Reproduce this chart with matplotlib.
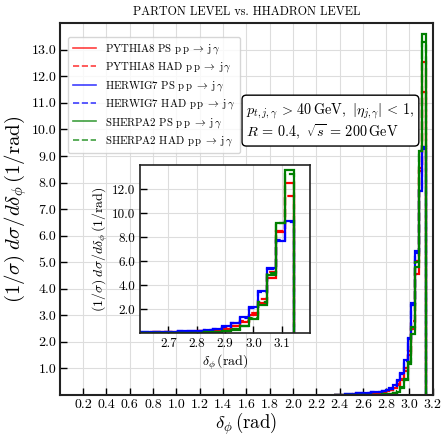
import numpy as np
import matplotlib
matplotlib.use("Agg")
import matplotlib.pyplot as plt

plt.rcParams['font.family'] = ['cmr10', 'DejaVu Serif']
plt.rcParams['mathtext.fontset'] = 'cm'
plt.rcParams['axes.formatter.use_mathtext'] = True

# bin edges: 100 bins over [0, pi]; only bins 75..99 have visible content
first_bin = 75
n_bins_total = 100
edges = np.linspace(0, np.pi, n_bins_total + 1)[first_bin:]

pythia_ps = [0.01, 0.01, 0.012, 0.015, 0.02, 0.025, 0.03, 0.035, 0.04, 0.05, 0.06,
             0.07, 0.09, 0.11, 0.14, 0.18, 0.25, 0.36, 0.55, 0.89, 1.50,
             2.50, 4.55, 8.45, 12.53]
pythia_had = [0.01, 0.01, 0.012, 0.015, 0.02, 0.025, 0.03, 0.035, 0.04, 0.05, 0.06,
              0.07, 0.09, 0.12, 0.15, 0.19, 0.27, 0.40, 0.62, 1.00, 1.67,
              2.80, 5.05, 8.55, 11.40]
herwig_ps = [0.01, 0.015, 0.02, 0.03, 0.04, 0.05, 0.06, 0.07, 0.08, 0.09,
             0.10, 0.11, 0.13, 0.15, 0.19, 0.25, 0.36, 0.55, 0.83, 1.33,
             2.16, 3.47, 5.42, 7.68, 9.33]
herwig_had = [0.01, 0.015, 0.02, 0.03, 0.04, 0.05, 0.06, 0.07, 0.08, 0.09,
              0.10, 0.11, 0.13, 0.15, 0.19, 0.24, 0.34, 0.52, 0.80, 1.28,
              2.10, 3.40, 5.35, 7.75, 9.25]
sherpa_ps = [0.0, 0.0, 0.0, 0.0, 0.0, 0.005, 0.005, 0.01, 0.01, 0.01,
             0.015, 0.02, 0.02, 0.03, 0.04, 0.05, 0.07, 0.13, 0.28, 0.55,
             1.16, 2.30, 4.82, 9.20, 13.60]
sherpa_had = [0.0, 0.0, 0.0, 0.0, 0.0, 0.005, 0.005, 0.01, 0.01, 0.01,
              0.015, 0.02, 0.02, 0.03, 0.04, 0.05, 0.08, 0.14, 0.30, 0.60,
              1.25, 2.55, 5.00, 9.20, 13.30]

proc = "$\\mathrm{p\\,p}\\;\\to\\;\\mathrm{j}\\,\\gamma$"
series = [
    ("PYTHIA8 PS " + proc, pythia_ps, "red", "-"),
    ("PYTHIA8 HAD " + proc, pythia_had, "red", "--"),
    ("HERWIG7 PS " + proc, herwig_ps, "blue", "-"),
    ("HERWIG7 HAD " + proc, herwig_had, "blue", "--"),
    ("SHERPA2 PS " + proc, sherpa_ps, "green", "-"),
    ("SHERPA2 HAD " + proc, sherpa_had, "green", "--"),
]

main_xticks = [0.2, 0.4, 0.6, 0.8, 1.0, 1.2, 1.4, 1.6, 1.8, 2.0, 2.2, 2.4, 2.6, 2.8, 3.0, 3.2]
main_yticks = [1.0, 2.0, 3.0, 4.0, 5.0, 6.0, 7.0, 8.0, 9.0, 10.0, 11.0, 12.0, 13.0]
inset_xticks = [2.7, 2.8, 2.9, 3.0, 3.1]
inset_yticks = [2.0, 4.0, 6.0, 8.0, 10.0, 12.0]

fig = plt.figure(figsize=(4.43, 4.37), dpi=100)
ax = fig.add_axes([0.135, 0.096, 0.842, 0.851])

ylab = r"$(1/\sigma)\;d\sigma/d\delta_\phi\,(1/\mathrm{rad})$"
xlab = r"$\delta_\phi\,(\mathrm{rad})$"

handles = []
for label, vals, col, ls in series:
    ax.stairs(vals, edges, color=col, linestyle=ls, linewidth=1.6)
    h, = ax.plot([], [], color=col, linestyle=ls, linewidth=1.2, alpha=0.75, label=label)
    handles.append(h)

ax.set_xlim(0, 3.2)
ax.set_ylim(0, 14)
ax.set_xticks(main_xticks)
ax.set_yticks(main_yticks)
ax.xaxis.set_major_formatter(matplotlib.ticker.FormatStrFormatter('%.1f'))
ax.yaxis.set_major_formatter(matplotlib.ticker.FormatStrFormatter('%.1f'))
ax.tick_params(direction='in', length=5, width=1, labelsize=10, color='black', pad=2.5)
ax.grid(True, color='#dddddd', linewidth=0.8)
ax.set_axisbelow(True)
for s in ax.spines.values():
    s.set_linewidth(1.5)
    s.set_color('#222222')
ax.set_xlabel(xlab, fontsize=13.5, labelpad=0)
ax.set_ylabel(ylab, fontsize=15, labelpad=2)
ax.set_title("PARTON LEVEL vs. HHADRON LEVEL", fontsize=8.7, pad=6)

leg = ax.legend(handles=handles, loc='upper left', fontsize=7.8, frameon=True,
                bbox_to_anchor=(0.021, 0.962), borderaxespad=0.0,
                handlelength=2.2, borderpad=0.45, labelspacing=0.42)
leg.get_frame().set_edgecolor('#cccccc')

ax.text(0.5, 0.735,
        "$p_{t,j,\\gamma}\\,>\\,40\\,\\mathrm{GeV},\\ |\\eta_{j,\\gamma}|\\,<\\,1,$\n"
        "$R\\,=\\,0.4,\\ \\sqrt{s}\\,=\\,200\\,\\mathrm{GeV}$",
        transform=ax.transAxes, fontsize=10.3, va='center', ha='left',
        linespacing=1.1,
        bbox=dict(boxstyle='round,pad=0.3', facecolor='white', edgecolor='black', linewidth=1))

ins = fig.add_axes([0.316, 0.238, 0.384, 0.384])
for label, vals, col, ls in series:
    ins.stairs(vals, edges, color=col, linestyle=ls, linewidth=1.6)
ins.set_xlim(2.6, 3.2)
ins.set_ylim(0, 14)
ins.set_xticks(inset_xticks)
ins.set_yticks(inset_yticks)
ins.xaxis.set_major_formatter(matplotlib.ticker.FormatStrFormatter('%.1f'))
ins.yaxis.set_major_formatter(matplotlib.ticker.FormatStrFormatter('%.1f'))
ins.tick_params(direction='in', length=5, width=1, labelsize=9.5)
ins.grid(True, color='#dddddd', linewidth=0.8)
ins.set_axisbelow(True)
for s in ins.spines.values():
    s.set_linewidth(1.2)
    s.set_color('#222222')
ins.set_xlabel(xlab, fontsize=10, labelpad=2)
ins.set_ylabel(ylab, fontsize=10, labelpad=1)

fig.savefig("out.png", dpi=100)
